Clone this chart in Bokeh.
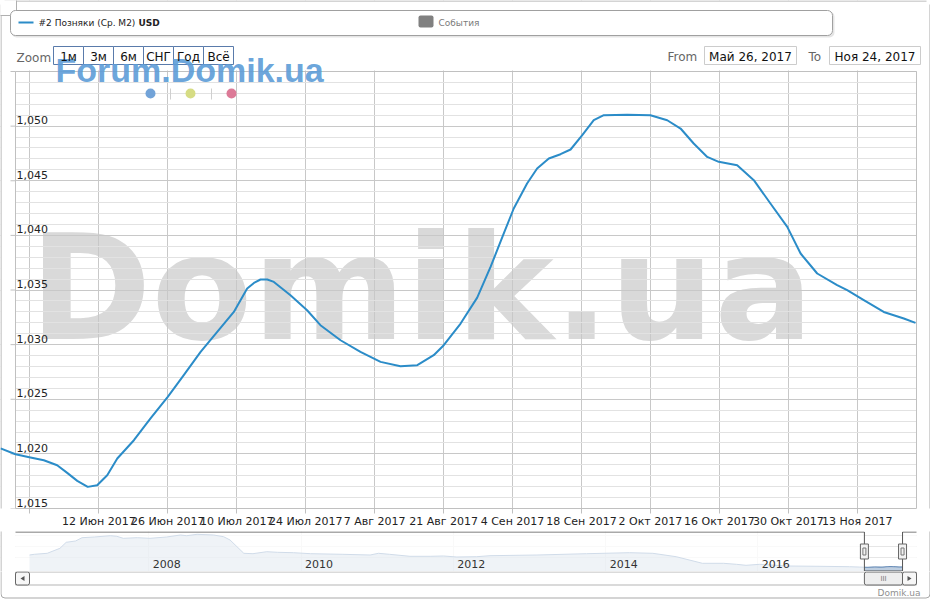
import pandas as pd
from bokeh.plotting import figure
from bokeh.models import Range1d, FixedTicker, Grid
from bokeh.layouts import column
from bokeh.core.properties import value
from bokeh.embed import file_html
from bokeh.resources import INLINE

# ---------------- data ----------------
SERIES_NAME = "#2 Позняки (Ср. М2) "
SERIES_UNIT = "USD"
EVENTS_NAME = "События"
WATERMARK = "Domik.ua"
FORUM_MARK = "Forum.Domik.ua"
CREDIT = "Domik.ua"

DATES = [
    "2017-05-23 01:00", "2017-05-26 02:00", "2017-05-29 03:00", "2017-05-31 20:00",
    "2017-06-03 13:00", "2017-06-05 14:00", "2017-06-07 15:00", "2017-06-09 18:00",
    "2017-06-11 16:00", "2017-06-13 17:00", "2017-06-15 18:00", "2017-06-19 03:00",
    "2017-06-22 12:00", "2017-06-26 00:00", "2017-06-29 06:00", "2017-07-02 16:00",
    "2017-07-06 01:00", "2017-07-09 10:00", "2017-07-12 03:00", "2017-07-13 12:00",
    "2017-07-14 20:00", "2017-07-16 05:00",
    "2017-07-17 13:00", "2017-07-20 22:00", "2017-07-24 07:00", "2017-07-27 00:00",
    "2017-07-31 02:00", "2017-08-04 03:00", "2017-08-08 05:00", "2017-08-12 06:00",
    "2017-08-15 16:00", "2017-08-19 00:00", "2017-08-21 01:00", "2017-08-24 11:00",
    "2017-08-27 20:00", "2017-08-30 13:00", "2017-09-02 06:00", "2017-09-04 06:00",
    "2017-09-06 23:00", "2017-09-09 00:00", "2017-09-11 09:00", "2017-09-13 18:00",
    "2017-09-15 19:00", "2017-09-18 04:00", "2017-09-20 12:00", "2017-09-22 13:00",
    "2017-09-27 07:00", "2017-10-02 00:00", "2017-10-05 10:00", "2017-10-08 03:00",
    "2017-10-10 19:00", "2017-10-13 13:00", "2017-10-15 21:00", "2017-10-19 15:00",
    "2017-10-23 00:00", "2017-10-26 09:00", "2017-10-29 19:00", "2017-11-01 12:00",
    "2017-11-04 21:00", "2017-11-08 22:00", "2017-11-10 23:00", "2017-11-14 08:00",
    "2017-11-18 09:00", "2017-11-22 11:00", "2017-11-24 20:00",
]
PRICES = [
    1020.50, 1019.97, 1019.67, 1019.42,
    1018.96, 1018.26, 1017.53, 1016.98,
    1017.13, 1018.05, 1019.58, 1021.25,
    1023.24, 1025.22, 1027.20, 1029.33,
    1031.16, 1032.99, 1035.14, 1035.65,
    1035.96, 1035.96,
    1035.74, 1034.52, 1033.15, 1031.78,
    1030.40, 1029.33, 1028.42, 1028.03,
    1028.12, 1029.03, 1029.95, 1031.93,
    1034.30, 1037.11, 1040.20, 1042.46,
    1044.75, 1046.12, 1047.04, 1047.43,
    1047.86, 1049.17, 1050.54, 1051.00,
    1051.03, 1051.00, 1050.54, 1049.78,
    1048.41, 1047.18, 1046.73, 1046.42,
    1045.05, 1042.92, 1040.78, 1038.34,
    1036.51, 1035.44, 1034.98, 1034.07,
    1032.99, 1032.39, 1031.99,
]

X_TICK_DATES = ["2017-05-29", "2017-06-12", "2017-06-26", "2017-07-10", "2017-07-24",
                "2017-08-07", "2017-08-21", "2017-09-04", "2017-09-18", "2017-10-02",
                "2017-10-16", "2017-10-30", "2017-11-13"]
X_TICK_LABELS = ["", "12 Июн 2017", "26 Июн 2017", "10 Июл 2017", "24 Июл 2017",
                 "7 Авг 2017", "21 Авг 2017", "4 Сен 2017", "18 Сен 2017", "2 Окт 2017",
                 "16 Окт 2017", "30 Окт 2017", "13 Ноя 2017"]
Y_MAJOR = [1015, 1020, 1025, 1030, 1035, 1040, 1045, 1050, 1055]
Y_MINOR = list(range(1015, 1056))
Y_LABELS = [f"{v:,}" for v in Y_MAJOR[:-1]]

VIEW_FROM = "2017-05-26 02:00"
VIEW_TO = "2017-11-25 00:45"
FROM_TEXT = "Май 26, 2017"
TO_TEXT = "Ноя 24, 2017"
ZOOM_BUTTONS = ["1м", "3м", "6м", "СНГ", "Год", "Всё"]

NAV_DATES = [
    "2006-06-08", "2006-07-01", "2006-09-01", "2006-11-01", "2006-12-01", "2007-01-15",
    "2007-02-15", "2007-04-15", "2007-07-01", "2007-08-01", "2007-09-01", "2007-11-07",
    "2008-01-07", "2008-03-27", "2008-06-01", "2008-07-01", "2008-08-20", "2008-11-07",
    "2008-12-25", "2009-01-25", "2009-04-01", "2009-05-15", "2009-07-20", "2009-09-10",
    "2009-11-25", "2010-02-15", "2010-07-20", "2010-11-28", "2011-01-07", "2011-03-01",
    "2011-06-07", "2011-09-12", "2011-11-15", "2012-01-18", "2012-04-22", "2012-06-25",
    "2013-02-05", "2013-10-01", "2014-04-25", "2014-08-15", "2014-12-05", "2015-04-10",
    "2015-07-20", "2015-09-20", "2015-11-05", "2016-01-10", "2016-05-20", "2016-10-25",
    "2017-03-15", "2017-05-01",
]
NAV_PRICES = [
    1595, 1628, 1675, 1910, 2192, 2254,
    2409, 2442, 2503, 2474, 2380, 2409,
    2380, 2442, 2536, 2503, 2568, 2536,
    2456, 2301, 1675, 1657, 1751, 1722,
    1704, 1657, 1628, 1595, 1675, 1628,
    1534, 1534, 1549, 1502, 1516, 1563,
    1595, 1657, 1704, 1675, 1516, 1205,
    1205, 1158, 1111, 1158, 1079, 1064,
    1046, 1030,
]
NAV_YEAR_TICKS = ["2008-01-01", "2010-01-01", "2012-01-01", "2014-01-01", "2016-01-01"]
NAV_YEAR_LABELS = ["2008", "2010", "2012", "2014", "2016"]
NAV_GRID_VALUES = [1500, 2000, 2500]


def ms(s):
    return pd.Timestamp(s).value // 10**6


FONT = value("DejaVu Sans")
LINE_COLOR = "#2b8cc8"
BORDER = "#a9a9a9"

# ---------------- geometry (in reference pixels; every frame spans the full width) ----------------
W = 930
S_L, S_R = 0, W
P_L, P_R, P_T, P_B = 15, 916, 71, 508   # plot area
MAIN_BOTTOM = 530
N_T, N_B = 531, 571                    # navigator
NAV_D0_PX, NAV_D1_PX = 29, 902         # navigator series extent
C_B = 599

v0, v1 = ms(VIEW_FROM), ms(VIEW_TO)
mpp = (v1 - v0) / (P_R - P_L)
y0, y1 = Y_MAJOR[0], Y_MAJOR[-1]
upp = (y1 - y0) / (P_B - P_T)

p = figure(width=W, height=MAIN_BOTTOM, x_axis_type="datetime", y_axis_location=None,
           title=None, toolbar_location=None, tools="", output_backend="svg",
           x_range=Range1d(v0 - (P_L - S_L) * mpp, v1 + (S_R - P_R) * mpp),
           y_range=Range1d(y0, y0 + P_B * upp),
           min_border=0, min_border_left=0, min_border_right=0, min_border_top=0,
           min_border_bottom=MAIN_BOTTOM - P_B,
           outline_line_color=None, background_fill_color="white", border_fill_color="white")
p.extra_x_ranges = {"px": Range1d(S_L, S_R)}
p.extra_y_ranges = {"py": Range1d(P_B, 0)}
PX = dict(x_range_name="px", y_range_name="py")

x_ticks = [ms(d) for d in X_TICK_DATES]
xa = p.xaxis[0]
xa.ticker = FixedTicker(ticks=x_ticks)
xa.major_label_overrides = {t: lab for t, lab in zip(x_ticks, X_TICK_LABELS)}
xa.bounds = (v0, v1)
xa.axis_line_color = "#c0c0c0"
xa.major_tick_line_color = "#c0c0c0"
xa.major_tick_in = 0
xa.major_tick_out = 5
xa.minor_tick_line_color = None
xa.major_label_text_font = "DejaVu Sans"
xa.major_label_text_font_size = "11px"
xa.major_label_text_color = "#222222"
xa.major_label_standoff = 1

p.xgrid.grid_line_color = "#c8c8c8"
p.ygrid.visible = False
p.add_layout(Grid(dimension=1, ticker=FixedTicker(ticks=Y_MAJOR, minor_ticks=Y_MINOR),
                  grid_line_color="#c8c8c8", minor_grid_line_color="#e2e2e2"))

# watermark behind the grid
wm = p.text(x=[29], y=[288], text=[WATERMARK], text_font=FONT, text_font_style="bold",
            text_font_size="147px", text_color="#d9d9d9", text_baseline="middle", **PX)
wm.level = "image"

# white covers outside the plot area
p.quad(left=[S_L, S_L, P_R], right=[S_R, P_L, S_R], top=[0, P_T - 1, P_T - 1],
       bottom=[P_T - 1, P_B, P_B], fill_color="white", line_color=None, **PX)
p.quad(left=P_L, right=P_R, top=P_T, bottom=P_B, fill_color=None, line_color="#c0c0c0", **PX)

# outer chart border
p.segment(x0=[0.5, 929.5, 4], x1=[0.5, 929.5, 926], y0=[4, 4, 0.5], y1=[MAIN_BOTTOM, MAIN_BOTTOM, 0.5],
          line_color=BORDER, **PX)
p.quad(left=-6, right=16, top=-6, bottom=15, fill_color="white", line_color="#b0b0b0",
       border_radius=4, **PX)

# y axis ticks and labels
p.segment(x0=P_L - 5, x1=P_L, y0=Y_MAJOR, y1=Y_MAJOR, line_color="#c0c0c0", x_range_name="px")
p.text(x=P_L + 1, y=Y_MAJOR[:-1], text=Y_LABELS, text_font=FONT, text_font_size="11px",
       text_color="#222222", text_baseline="middle", y_offset=-6, x_range_name="px")

# series
p.line(x=[ms(d) for d in DATES], y=PRICES, line_color=LINE_COLOR, line_width=2,
       line_join="round")

# forum watermark decorations
p.segment(x0=[170, 211], x1=[170, 211], y0=88, y1=99, line_color="#cfcfcf", **PX)
p.scatter(x=[150, 190, 231], y=[93, 93, 93], size=10,
          fill_color=["#72a3d8", "#d6dc84", "#dc7a97"], line_color=None, **PX)

# legend box
p.quad(left=11, right=834, top=11, bottom=37, fill_color="#000000", fill_alpha=0.10,
       line_color=None, border_radius=5, **PX)
p.quad(left=10, right=832, top=10, bottom=35, fill_color="white", line_color="#a0a0a0",
       border_radius=5, **PX)
p.line(x=[18, 33], y=[22, 22], line_color=LINE_COLOR, line_width=2, **PX)
p.text(x=38, y=22, text=[SERIES_NAME], text_font=FONT, text_font_size="9px",
       text_color="#222222", text_baseline="middle", **PX)
p.text(x=138, y=22, text=[SERIES_UNIT], text_font=FONT, text_font_size="9px",
       text_font_style="bold", text_color="#222222", text_baseline="middle", **PX)
p.quad(left=418, right=433, top=15, bottom=27, fill_color="#808080", line_color=None,
       border_radius=2, **PX)
p.text(x=438, y=22, text=[EVENTS_NAME], text_font=FONT, text_font_size="9px",
       text_color="#7a7a7a", text_baseline="middle", **PX)

# range selector
btn_l = [53 + 30 * i for i in range(len(ZOOM_BUTTONS))]
btn_r = [b + 30 for b in btn_l]
p.text(x=16, y=57, text=["Zoom"], text_font=FONT, text_font_size="12px",
       text_color="#666666", text_baseline="middle", **PX)
p.quad(left=btn_l, right=btn_r, top=46, bottom=64, fill_color="white", line_color="#5a7bab", **PX)
p.text(x=55, y=69, text=[FORUM_MARK], text_font=value("Liberation Sans"), text_font_style="bold",
       text_font_size="34px", text_color="#5e9dd8", text_alpha=0.92, text_baseline="middle", **PX)
p.text(x=[(a + b) / 2 for a, b in zip(btn_l, btn_r)], y=56, text=ZOOM_BUTTONS, text_font=FONT,
       text_font_size="12px", text_color="#111111", text_align="center",
       text_baseline="middle", **PX)
p.text(x=[667, 808], y=56, text=["From", "To"], text_font=FONT, text_font_size="12px",
       text_color="#666666", text_baseline="middle", **PX)
p.quad(left=[704, 829], right=[796, 920], top=46, bottom=64, fill_color="white",
       line_color="#cccccc", **PX)
p.text(x=[750, 874.5], y=56, text=[FROM_TEXT, TO_TEXT], text_font=FONT, text_font_size="12px",
       text_color="#111111", text_align="center", text_baseline="middle", **PX)

# ---------------- navigator (full-width frame) ----------------
d0, d1 = ms(NAV_DATES[0]), ms(DATES[-1])
n_mpp = (d1 - d0) / (NAV_D1_PX - NAV_D0_PX)
nav_s = d0 - (NAV_D0_PX - S_L) * n_mpp        # frame edges
nav_e = d1 + (S_R - NAV_D1_PX) * n_mpp
nav_l = d0 - (NAV_D0_PX - P_L) * n_mpp        # navigator box edges
nav_r = d1 + (P_R - NAV_D1_PX) * n_mpp
ny0, ny1 = 820, 2700

nav = figure(width=W, height=N_B - MAIN_BOTTOM, x_range=Range1d(nav_s, nav_e),
             y_range=Range1d(ny0, ny1), x_axis_location=None, y_axis_location=None,
             title=None, toolbar_location=None, tools="", output_backend="svg",
             min_border=0, min_border_left=0, min_border_right=0,
             min_border_top=N_T - MAIN_BOTTOM, min_border_bottom=0,
             outline_line_color=None, background_fill_color="white", border_fill_color="white")
nav.grid.visible = False
nav.add_layout(Grid(dimension=0, ticker=FixedTicker(ticks=[ms(t) for t in NAV_YEAR_TICKS]),
                    grid_line_color="#e6e6e6"))
nav.add_layout(Grid(dimension=1, ticker=FixedTicker(ticks=NAV_GRID_VALUES),
                    grid_line_color="#e6e6e6"))
nav.extra_x_ranges = {"px": Range1d(S_L, S_R)}
nav.extra_y_ranges = {"py": Range1d(N_B, N_T)}

nav.quad(left=[nav_s, nav_r], right=[nav_l, nav_e], bottom=ny0, top=ny1, fill_color="white",
         line_color=None)
nx = [ms(d) for d in NAV_DATES] + [ms(d) for d in DATES]
nyv = NAV_PRICES + PRICES
nav.varea(x=nx, y1=ny0, y2=nyv, fill_color="#4572a7", fill_alpha=0.35)
nav.line(x=nx, y=nyv, line_color="#4572a7", line_width=1)
nav.quad(left=[nav_l, v1], right=[v0, nav_r], bottom=ny0, top=ny1, fill_color="white",
         fill_alpha=0.75, line_color=None)
nav.text(x=[ms(t) for t in NAV_YEAR_TICKS], y=563, text=NAV_YEAR_LABELS, x_offset=4,
         text_font=FONT, text_font_size="11px", text_color="#333333",
         text_baseline="middle", y_range_name="py")
nav.line(x=[nav_l, v0, v0, v1, v1, nav_r],
         y=[N_T + 0.5, N_T + 0.5, N_B - 0.5, N_B - 0.5, N_T + 0.5, N_T + 0.5],
         line_color="#555555", line_width=1, y_range_name="py")
nav.rect(x=[v0, v1], y=551, width=8, height=15, width_units="screen", height_units="screen",
         fill_color="#f2f2f2", line_color="#666666", y_range_name="py")
nav.rect(x=[v0, v1], y=551, width=3, height=7, width_units="screen", height_units="screen",
         fill_color=None, line_color="#777777", y_range_name="py")
nav.segment(x0=[0.5, 929.5], x1=[0.5, 929.5], y0=MAIN_BOTTOM, y1=N_B, line_color=BORDER,
            x_range_name="px", y_range_name="py")

# ---------------- scrollbar + credit ----------------
sb = figure(width=W, height=C_B - N_B, x_range=Range1d(S_L, S_R), y_range=Range1d(C_B, N_B),
            x_axis_location=None, y_axis_location=None, title=None, toolbar_location=None,
            tools="", output_backend="svg", min_border=0, min_border_left=0,
            min_border_right=0, min_border_top=0, min_border_bottom=0,
            outline_line_color=None, background_fill_color="white", border_fill_color="white")
sb.grid.visible = False
sb.extra_x_ranges = {"date": Range1d(nav_s, nav_e)}
sb.quad(left=P_L, right=P_R, top=N_B + 0.5, bottom=584.5, fill_color="#ffffff",
        line_color="#b5b5b5")
sb.quad(left=v0, right=v1, top=N_B + 0.5, bottom=584.5, fill_color="#eeeeee",
        line_color="#666666", border_radius=2, x_range_name="date")
sb.text(x=(v0 + v1) / 2, y=578, text=["III"], text_font=FONT, text_font_size="7px",
        text_color="#777777", text_align="center", text_baseline="middle", x_range_name="date")
sb.quad(left=[P_L, 902], right=[29, P_R], top=N_B + 0.5, bottom=584.5, fill_color="#f7f7f7",
        line_color="#666666", border_radius=2)
sb.patches(xs=[[20, 24, 24], [911, 907, 907]], ys=[[578, 575.5, 580.5], [578, 575.5, 580.5]],
           fill_color="#555555", line_color=None)
sb.text(x=920, y=592, text=[CREDIT], text_font=FONT, text_font_size="9px",
        text_color="#909090", text_align="right", text_baseline="middle")
sb.quad(left=0.5, right=929.5, top=560, bottom=597.5, fill_color=None, line_color=BORDER,
        border_radius=4)

layout = column(p, nav, sb)
open("out.html", "w").write(file_html(layout, INLINE))
